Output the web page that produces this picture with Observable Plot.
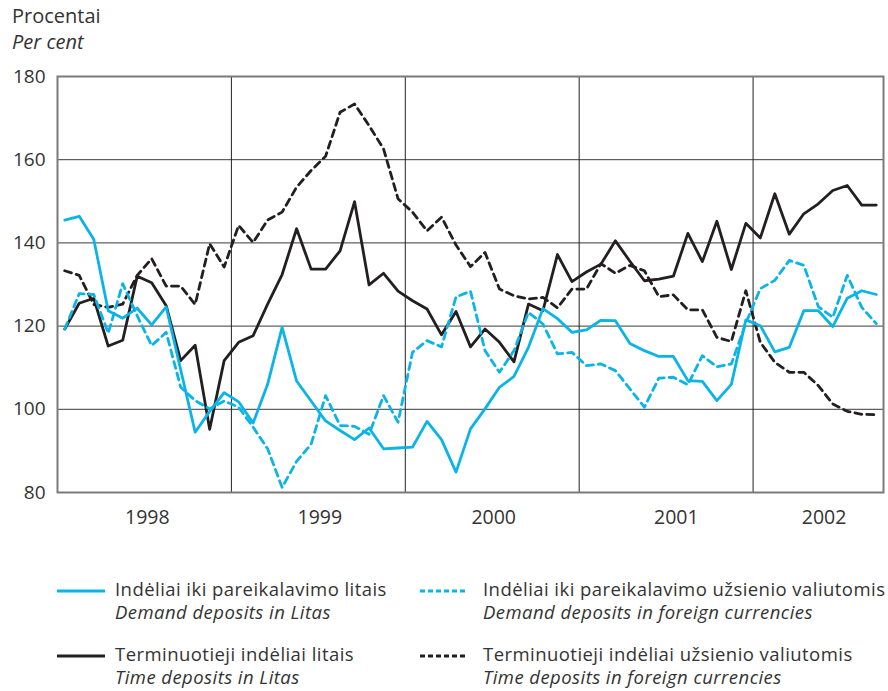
<!DOCTYPE html>
<html><head><meta charset="utf-8">
<script src="https://cdn.jsdelivr.net/npm/d3@7"></script>
<script src="https://cdn.jsdelivr.net/npm/@observablehq/plot@0.6"></script>
<style>
body{margin:0;background:#fff;font-family:"Open Sans",Lato,sans-serif;color:#333;}
#wrap{position:relative;width:888px;height:691px;overflow:hidden;}
#chart{position:absolute;left:0;top:0;}
.ttl{position:absolute;left:12px;font-size:20px;line-height:26px;color:#333;}
.leg{position:absolute;font-size:18.5px;letter-spacing:0.45px;line-height:23px;color:#333;white-space:nowrap;}
.leg i{font-style:italic;}
.sw{position:absolute;}
</style></head><body><div id="wrap"><div id="chart"></div></div>
<script>
// Monthly indices, January 1998 = 0 ... September 2002 = 56
const demandLitas = [145.5,146.4,140.9,123.7,121.9,124.3,120.3,124.6,109.5,94.5,
  99.5,104.0,101.8,96.7,106.0,119.7,106.8,102.0,97.2,94.9,
  92.7,95.5,90.5,90.7,90.9,97.1,92.7,84.9,95.3,100.1,
  105.3,107.9,114.9,124.2,121.8,118.5,119.1,121.4,121.3,115.8,
  114.1,112.7,112.7,106.9,106.7,102.1,106.0,121.5,120.1,113.8,
  114.9,123.7,123.7,119.9,126.7,128.5,127.6];
const demandForeign = [119.3,127.8,127.6,118.3,130.2,122.5,115.3,118.5,105.3,102.1,
  100.1,102.0,100.5,95.7,90.5,81.2,87.5,91.6,103.3,96.1,
  95.9,94.0,103.3,96.9,113.7,116.5,115.0,127.0,128.4,114.1,
  108.9,114.1,123.3,120.5,113.3,113.7,110.5,110.9,109.3,104.9,
  100.5,107.5,107.7,105.9,112.9,110.2,110.9,120.7,129.0,131.0,
  135.8,134.6,124.7,122.1,132.2,124.5,120.6];
const timeLitas = [119.3,125.5,126.7,115.2,116.6,132.0,130.4,124.9,111.7,115.4,
  95.2,111.7,116.1,117.7,125.3,132.4,143.4,133.7,133.7,138.1,
  149.9,129.9,132.7,128.4,126.1,124.1,117.9,123.5,115.0,119.3,
  116.1,111.4,125.3,123.7,137.2,130.7,133.0,134.9,140.5,135.6,
  130.9,131.3,132.0,142.3,135.5,145.2,133.6,144.7,141.2,151.8,
  142.1,147.0,149.4,152.6,153.8,149.1,149.1];
const timeForeign = [133.3,132.2,125.2,124.5,125.3,132.2,136.2,129.6,129.6,125.2,
  139.8,134.2,144.2,140.1,145.5,147.4,153.4,157.4,160.8,171.4,
  173.4,168.2,162.6,150.6,147.4,142.9,146.2,139.5,134.3,137.7,
  128.9,127.3,126.5,126.9,124.4,128.9,128.9,135.0,132.7,134.6,
  133.3,127.1,127.5,123.9,123.9,117.3,116.3,128.5,116.1,111.3,
  108.9,108.9,105.7,101.3,99.5,98.8,98.7];
const years = ["1998","1999","2000","2001","2002"];
const yearCenters = [6.2,18.1,30.1,42.7,52.9];
const yearBounds = [12,24,36,48];
const yTicks = [80,100,120,140,160,180];
const gridValues = [100,120,140,160];

const BLUE = "#0ab4e6", BLACK = "#231f20";
const DASH = "7,5";
const yearLabel = new Map(yearCenters.map((c,i)=>[c,years[i]]));
const xm = (d,i)=> i + 0.5;

const chart = Plot.plot({
  width: 888, height: 545,
  marginTop: 76, marginBottom: 53, marginLeft: 57, marginRight: 5,
  style: {fontFamily: "'Open Sans', Lato, sans-serif", fontSize: "19px", color: "#333", background: "#fff"},
  x: {domain: [0,57]},
  y: {domain: [80,180]},
  marks: [
    Plot.gridY({ticks: gridValues, stroke: "#3a3a3a", strokeOpacity: 1, strokeWidth: 1}),
    Plot.gridX({ticks: yearBounds, stroke: "#222", strokeOpacity: 1, strokeWidth: 1}),
    Plot.line(timeForeign, {x: xm, y: d=>d, stroke: BLACK, strokeWidth: 2.8, strokeDasharray: DASH}),
    Plot.line(timeLitas, {x: xm, y: d=>d, stroke: BLACK, strokeWidth: 2.8}),
    Plot.line(demandForeign, {x: xm, y: d=>d, stroke: BLUE, strokeWidth: 2.8, strokeDasharray: DASH}),
    Plot.line(demandLitas, {x: xm, y: d=>d, stroke: BLUE, strokeWidth: 2.8}),
    Plot.frame({stroke: "#7a7a7a", strokeWidth: 2}),
    Plot.axisY({ticks: yTicks, tickSize: 0, tickPadding: 12, tickFormat: d=>String(d), fontSize: 19}),
    Plot.axisX({ticks: yearCenters, tickSize: 0, tickPadding: 18, tickFormat: d=>yearLabel.get(d), fontSize: 19.5})
  ]
});
document.getElementById("chart").appendChild(chart);

// titles
const wrap = document.getElementById("wrap");
function addDiv(cls, html, left, top){
  const d = document.createElement("div"); d.className = cls; d.innerHTML = html;
  d.style.left = left+"px"; d.style.top = top+"px"; wrap.appendChild(d); return d;
}
addDiv("ttl","Procentai",12,3);
addDiv("ttl","<i>Per cent</i>",12,29);

// legend
const legendItems = [
  {lt:"Indėliai iki pareikalavimo litais", en:"Demand deposits in Litas", color:BLUE, dash:null, col:0, row:0},
  {lt:"Indėliai iki pareikalavimo užsienio valiutomis", en:"Demand deposits in foreign currencies", color:BLUE, dash:"5,3", col:1, row:0},
  {lt:"Terminuotieji indėliai litais", en:"Time deposits in Litas", color:BLACK, dash:null, col:0, row:1},
  {lt:"Terminuotieji indėliai užsienio valiutomis", en:"Time deposits in foreign currencies", color:BLACK, dash:"5,3", col:1, row:1}
];
const colX = [[57,115],[420,483]];
const rowY = [577, 642];
legendItems.forEach(it=>{
  const [sx, tx] = colX[it.col]; const y = rowY[it.row];
  const svg = d3.create("svg").attr("class","sw").attr("width",50).attr("height",10)
    .style("left",sx+"px").style("top",(y+9)+"px");
  svg.append("line").attr("x1",0).attr("x2",48).attr("y1",5).attr("y2",5)
    .attr("stroke",it.color).attr("stroke-width",3).attr("stroke-dasharray",it.dash);
  wrap.appendChild(svg.node());
  addDiv("leg", it.lt+"<br><i>"+it.en+"</i>", tx, y);
});
</script></body></html>
